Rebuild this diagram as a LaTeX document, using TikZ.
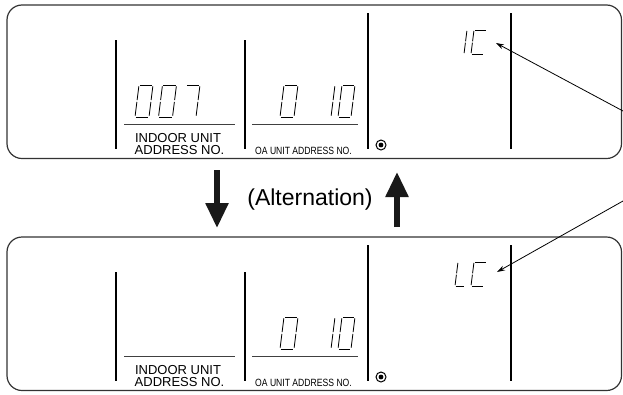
\documentclass[tikz,border=0pt]{standalone}
\usepackage{fontspec}
\setmainfont{Liberation Sans}
\usepackage{graphicx}
\usetikzlibrary{arrows.meta}
\def\SSga{0.07,1,0.93,1}
\def\SSgb{1,0.96,1,0.53}
\def\SSgc{1,0.47,1,0.04}
\def\SSgd{0.07,0,0.93,0}
\def\SSge{0,0.04,0,0.47}
\def\SSgf{0,0.53,0,0.96}
\def\SSgg{0.07,0.5,0.93,0.5}
\def\drawseg#1,#2,#3,#4\relax{\draw[segline] ({\dX+\dW*#1+0.125*\dH*#2},{\dY-\dH*#2}) -- ({\dX+\dW*#3+0.125*\dH*#4},{\dY-\dH*#4});}
\newcommand{\digitsegs}[5]{%
  \def\dX{#1}\def\dY{#2}\def\dW{#3}\def\dH{#4}%
  \foreach \s in {#5}{\expandafter\expandafter\expandafter\drawseg\csname SSg\s\endcsname\relax}%
}
\begin{document}
\begin{tikzpicture}[x=1pt,y=-1pt,
  panel/.style={draw=black!80,line width=1.2pt,rounded corners=15pt},
  divider/.style={draw=black,line width=1.1pt},
  uline/.style={draw=black!75,line width=1pt},
  segline/.style={line width=0.85pt,black,line cap=butt},
  lbl/.style={inner sep=0pt,font=\fontsize{13}{13}\selectfont},
  oalbl/.style={inner sep=0pt,font=\fontsize{10.5}{10.5}\selectfont},
  callout/.style={draw=black,line width=0.8pt,-{Stealth[length=8pt,width=5pt]}},
  bigarrow/.style={draw=black!90,line width=5.5pt,-{Triangle[length=25pt,width=22pt]}}]
\useasboundingbox (0,0) rectangle (623,394);

% ---------- two panels ----------
\foreach \dy/\nm in {0/top,232/bot}{
\begin{scope}[shift={(0,\dy)}]
  \draw[panel] (7,5) rectangle (621.5,158.5);
  \draw[divider] (116,40) -- (116,149);
  \draw[divider] (245,40) -- (245,149);
  \draw[divider] (368,13) -- (368,149);
  \draw[divider] (511,13) -- (511,149);
  \draw[uline] (124,124) -- (235,124);
  \draw[uline] (252,124) -- (358,124);
  \node[lbl,anchor=base] (indoor\nm) at (178,142) {INDOOR UNIT};
  \node[lbl,anchor=base] (addr\nm) at (179.5,154) {ADDRESS NO.};
  \node[oalbl,anchor=base] (oa\nm) at (303.5,154) {\scalebox{0.82}[1]{OA UNIT ADDRESS NO.}};
  \draw[line width=1pt] (381,145) circle[radius=5pt];
  \fill (381,145) circle[radius=2.4pt];
  % OA unit address "0  10"
  \digitsegs{280}{117}{14}{32}{a,b,c,d,e,f}
  \digitsegs{331}{117}{13}{32}{e,f}
  \digitsegs{338}{117}{13}{32}{a,b,c,d,e,f}
\end{scope}
}

% indoor unit address "007" (top panel only)
\digitsegs{135}{117}{14}{32}{a,b,c,d,e,f}
\digitsegs{158.5}{117}{14}{32}{a,b,c,d,e,f}
\digitsegs{182}{117}{14}{32}{a,b,c}

% "1C" in top panel
\digitsegs{454}{54}{10}{24}{b,c}
\digitsegs{471}{54}{13}{24}{a,d,e,f}
% "LC" in bottom panel
\digitsegs{455}{286}{10}{24}{d,e,f}
\digitsegs{471}{286}{13}{24}{a,d,e,f}

% callout arrows
\coordinate (icTip) at (496,43);
\coordinate (lcTip) at (497,272);
\coordinate (callA) at (623,111);
\coordinate (callB) at (623,201);
\draw[callout] (callA) -- (icTip);
\draw[callout] (callB) -- (lcTip);

% alternation arrows
\coordinate (dnStart) at (217,170);
\coordinate (dnEnd) at (217,228);
\coordinate (upStart) at (397,227);
\coordinate (upEnd) at (397,172);
\draw[bigarrow] (dnStart) -- (dnEnd);
\draw[bigarrow] (upStart) -- (upEnd);
\node[inner sep=0pt,font=\fontsize{23}{23}\selectfont] (alt) at (310,200) {(Alternation)};
\end{tikzpicture}
\end{document}
